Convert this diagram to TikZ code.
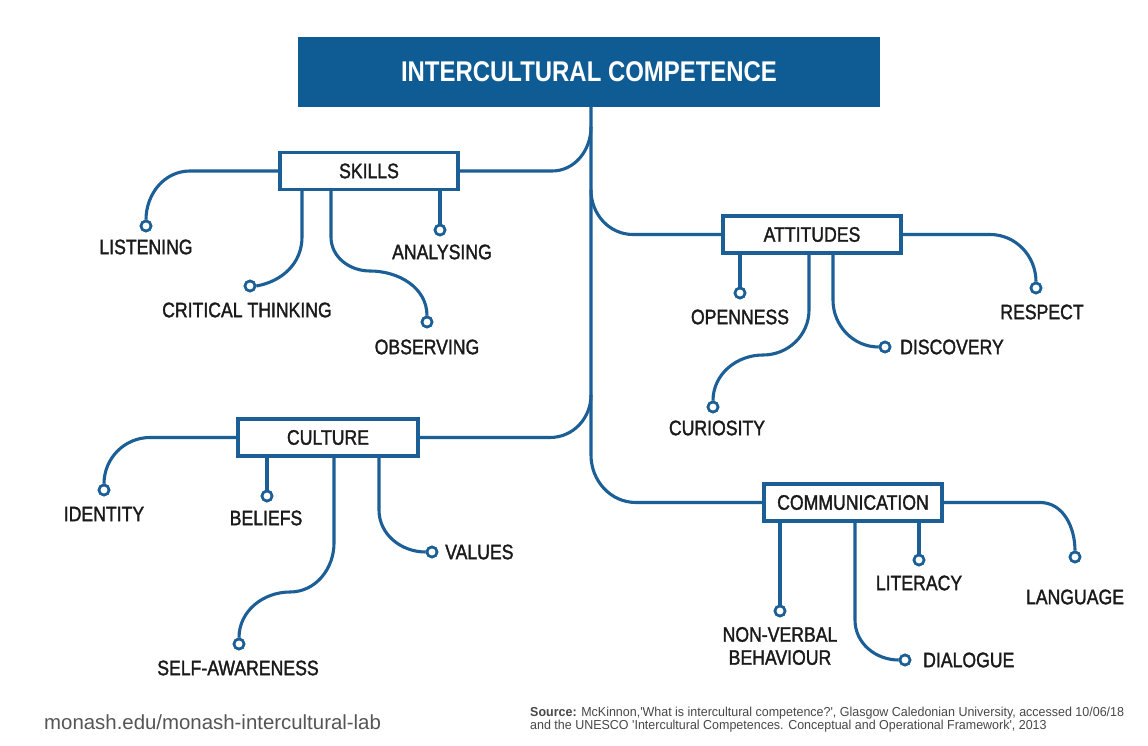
\documentclass[tikz,border=0pt]{standalone}
\usepackage{fontspec}
\setmainfont{Liberation Sans}
\newfontfamily\narrow[FakeStretch=0.84]{Liberation Sans}
\newfontfamily\labelfont[FakeStretch=0.84,FakeBold=1.5]{Liberation Sans}
\newfontfamily\srcfont[FakeStretch=0.96]{Liberation Sans}
\definecolor{lineblue}{HTML}{1C5F96}
\definecolor{titleblue}{HTML}{0F5C94}
\definecolor{ink}{HTML}{1A1A1A}
\definecolor{footgray}{HTML}{555555}
\begin{document}
\begin{tikzpicture}[x=1pt,y=1pt,
  conn/.style={draw=lineblue,line width=3.1pt},
  catbox/.style={draw=lineblue,line width=3.2pt,fill=white,minimum width=178pt,minimum height=37pt,inner sep=0pt,font=\labelfont\fontsize{21}{21}\selectfont,text=ink},
  dot/.style={circle,draw=lineblue,fill=white,line width=2.6pt,minimum size=10pt,inner sep=0pt},
  leaf/.style={font=\labelfont\fontsize{21}{23}\selectfont,text=ink,inner sep=0pt,align=center},
  foot/.style={anchor=base west,inner sep=0pt,text=footgray},
]
\useasboundingbox[fill=white] (0,0) rectangle (1148,745);

% title
\node[fill=titleblue,minimum width=582pt,minimum height=70pt,inner sep=0pt,
  font=\narrow\bfseries\fontsize{28.5}{28.5}\selectfont,text=white] (title) at (589,673) {INTERCULTURAL COMPETENCE};
\coordinate (trunkx) at (591,0);

% category boxes
\node[catbox] (skills) at (369,574) {SKILLS};
\node[catbox] (att) at (812,510.5) {ATTITUDES};
\node[catbox,minimum width=180pt] (cult) at (328,307.5) {CULTURE};
\node[catbox] (comm) at (853,242.5) {COMMUNICATION};

% leaf circles
\node[dot] (cLis) at (146,519) {};
\node[dot] (cCrit) at (250,459) {};
\node[dot] (cObs) at (427,423) {};
\node[dot] (cAna) at (440,515) {};
\node[dot] (cOpen) at (740,452) {};
\node[dot] (cCur) at (713,338) {};
\node[dot] (cDis) at (885,398) {};
\node[dot] (cRes) at (1036,457) {};
\node[dot] (cId) at (104,255) {};
\node[dot] (cBel) at (267,249) {};
\node[dot] (cSelf) at (239,101) {};
\node[dot] (cVal) at (432,193) {};
\node[dot] (cNon) at (780,134) {};
\node[dot] (cDia) at (905,85) {};
\node[dot] (cLit) at (919,185) {};
\node[dot] (cLan) at (1075,188) {};

% trunk and branches
\draw[conn] (title.south -| trunkx) -- (591,290) to[out=-90,in=180] (636,242.5) -- (comm.west);
\draw[conn] (skills.east) -- (552,574) to[out=0,in=-90] (591,618);
\draw[conn] (591,555) to[out=-90,in=180] (633,510.5) -- (att.west);
\draw[conn] (cult.east) -- (550,307.5) to[out=0,in=-90] (591,350);

% skills leaves
\draw[conn] (skills.west) -- (190,574) to[out=180,in=90] (cLis.north);
\draw[conn] (302,555.5) -- (302,508) to[out=-90,in=10] (cCrit.east);
\draw[conn] (331,555.5) -- (331,508) to[out=-90,in=180] (370,474) to[out=0,in=90] (cObs.north);
\draw[conn] (cAna |- skills.south) -- (cAna.north);
% attitudes leaves
\draw[conn] (cOpen |- att.south) -- (cOpen.north);
\draw[conn] (809,492) -- (809,435) to[out=-90,in=0] (763,390) to[out=180,in=90] (cCur.north);
\draw[conn] (833,492) -- (833,445) to[out=-90,in=180] (cDis.west);
\draw[conn] (att.east) -- (990,510.5) to[out=0,in=90] (cRes.north);
% culture leaves
\draw[conn] (cult.west) -- (150,307.5) to[out=180,in=90] (cId.north);
\draw[conn] (cBel |- cult.south) -- (cBel.north);
\draw[conn] (334,289) -- (334,202) to[out=-90,in=0] (290,153) to[out=180,in=90] (cSelf.north);
\draw[conn] (379,289) -- (379,235) to[out=-90,in=180] (cVal.west);
% communication leaves
\draw[conn] (cNon |- comm.south) -- (cNon.north);
\draw[conn] (855,224) -- (855,125) to[out=-90,in=180] (cDia.west);
\draw[conn] (cLit |- comm.south) -- (cLit.north);
\draw[conn] (comm.east) -- (1040,242.5) to[out=0,in=90] (cLan.north);

% circles on top of line ends
\foreach \c in {cLis,cCrit,cObs,cAna,cOpen,cCur,cDis,cRes,cId,cBel,cSelf,cVal,cNon,cDia,cLit,cLan}
  \draw[lineblue,fill=white,line width=2.6pt] (\c.center) circle (5pt);

% labels
\node[leaf] (lLis) at (146,498) {LISTENING};
\node[leaf] (lCrit) at (247,435) {CRITICAL THINKING};
\node[leaf] (lObs) at (427,398) {OBSERVING};
\node[leaf] (lAna) at (442,493) {ANALYSING};
\node[leaf] (lOpen) at (740,428) {OPENNESS};
\node[leaf] (lCur) at (717,317) {CURIOSITY};
\node[leaf,anchor=west] (lDis) at (900,398) {DISCOVERY};
\node[leaf] (lRes) at (1042,433) {RESPECT};
\node[leaf] (lId) at (104,231) {IDENTITY};
\node[leaf] (lBel) at (266,227) {BELIEFS};
\node[leaf] (lSelf) at (238,77) {SELF-AWARENESS};
\node[leaf,anchor=west] (lVal) at (445,193) {VALUES};
\node[leaf] (lNon) at (780,99) {NON-VERBAL\\BEHAVIOUR};
\node[leaf,anchor=west] (lDia) at (923,85) {DIALOGUE};
\node[leaf] (lLit) at (919,162) {LITERACY};
\node[leaf] (lLan) at (1075,148) {LANGUAGE};

% footer
\node[foot,font=\fontsize{20.4}{20.4}\selectfont] (url) at (44,16) {monash.edu/monash-intercultural-lab};
\node[foot,font=\srcfont\fontsize{13}{13}\selectfont,text=footgray!85!black] (src1) at (530,29)
 {\textbf{Source:} McKinnon,'What is intercultural competence?', Glasgow Caledonian University, accessed 10/06/18};
\node[foot,font=\srcfont\fontsize{13}{13}\selectfont,text=footgray!85!black] (src2) at (530,16)
 {and the UNESCO 'Intercultural Competences. Conceptual and Operational Framework', 2013};
\end{tikzpicture}
\end{document}
